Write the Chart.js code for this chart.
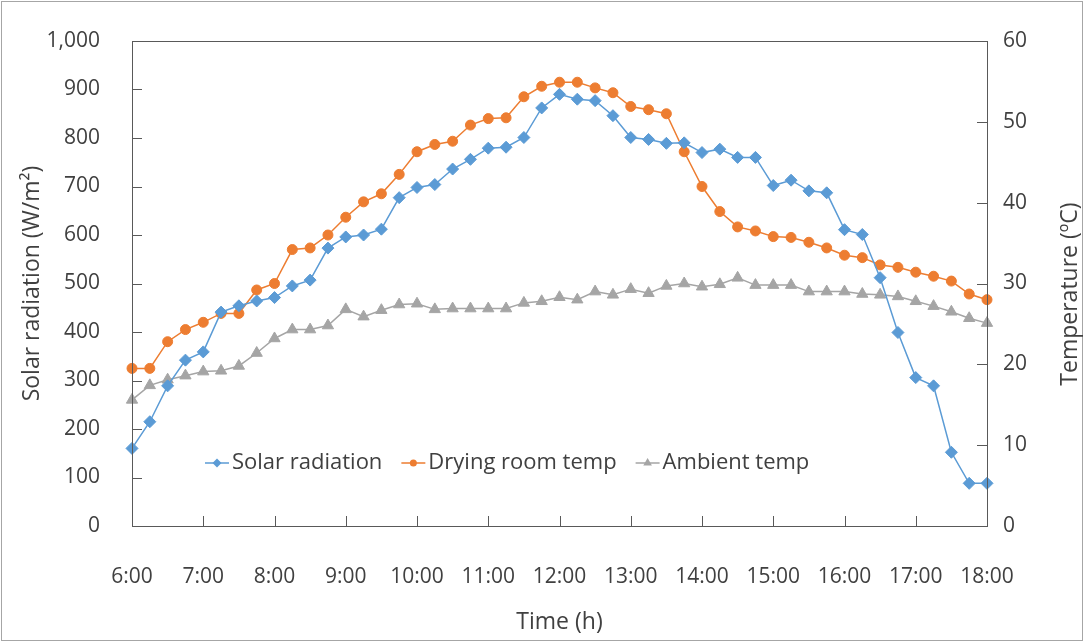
<!DOCTYPE html>
<html>
<head>
<meta charset="utf-8">
<script src="https://cdn.jsdelivr.net/npm/chart.js@4/dist/chart.umd.min.js"></script>
<style>
  html, body { margin: 0; padding: 0; background: #fff; }
  #wrap { width: 1084px; height: 642px; position: relative; }
</style>
</head>
<body>
<div id="wrap"><canvas id="dryChart" width="1084" height="642"></canvas></div>
<script>
// time of day, every 15 minutes
const times = ['6:00','6:15','6:30','6:45','7:00','7:15','7:30','7:45','8:00','8:15','8:30','8:45',
  '9:00','9:15','9:30','9:45','10:00','10:15','10:30','10:45','11:00','11:15','11:30','11:45',
  '12:00','12:15','12:30','12:45','13:00','13:15','13:30','13:45','14:00','14:15','14:30','14:45',
  '15:00','15:15','15:30','15:45','16:00','16:15','16:30','16:45','17:00','17:15','17:30','17:45','18:00'];

// W/m2
const solarRadiation = [160, 215, 289, 342, 359, 441, 454, 464, 471, 495, 507, 573, 596, 600, 612, 677,
  698, 704, 736, 756, 779, 781, 801, 862, 890, 880, 877, 846, 801, 797, 789, 790,
  770, 777, 760, 760, 702, 713, 691, 687, 611, 601, 512, 399, 306, 289, 152, 88, 88];

// deg C
const dryingRoomTemp = [19.5, 19.5, 22.8, 24.3, 25.2, 26.3, 26.3, 29.2, 30.0, 34.2, 34.4, 36.0, 38.2, 40.1, 41.1, 43.5,
  46.3, 47.2, 47.6, 49.6, 50.4, 50.5, 53.1, 54.4, 54.9, 54.9, 54.2, 53.6, 51.9, 51.5, 51.0, 46.3,
  42.0, 38.9, 37.0, 36.5, 35.8, 35.7, 35.1, 34.4, 33.5, 33.2, 32.3, 32.0, 31.4, 30.9, 30.3, 28.7, 28.0];

const ambientTemp = [15.6, 17.4, 18.1, 18.6, 19.1, 19.2, 19.8, 21.4, 23.2, 24.3, 24.3, 24.8, 26.8, 25.9, 26.7, 27.4,
  27.5, 26.8, 26.9, 26.9, 26.9, 26.9, 27.6, 27.8, 28.3, 28.0, 29.0, 28.6, 29.3, 28.8, 29.7, 30.0,
  29.6, 29.9, 30.7, 29.8, 29.8, 29.8, 29.0, 29.0, 29.0, 28.7, 28.6, 28.4, 27.8, 27.2, 26.5, 25.7, 25.1];

const FONT = '"Open Sans", "Noto Sans", sans-serif';
const TXT = '#404040';
const AXIS = '#595959';

// frame, inner tick marks, right title (reads upward) and the in-plot legend
const decorations = {
  id: 'decorations',
  beforeDraw(chart) {
    const c = chart.ctx;
    c.save();
    c.strokeStyle = '#a6a6a6';
    c.lineWidth = 1;
    c.strokeRect(1.5, 1.5, chart.width - 3, chart.height - 3);
    c.restore();
  },
  afterDraw(chart) {
    const c = chart.ctx;
    const a = chart.chartArea;
    const x = chart.scales.x, y = chart.scales.y, y1 = chart.scales.y1;
    c.save();
    c.strokeStyle = AXIS;
    c.lineWidth = 1;
    c.strokeRect(Math.round(a.left) + 0.5, Math.round(a.top) + 0.5,
      Math.round(a.right - a.left), Math.round(a.bottom - a.top));
    c.beginPath();
    times.forEach((t, i) => {
      if (i % 4 !== 0) return;
      const px = Math.round(x.getPixelForValue(i)) + 0.5;
      c.moveTo(px, a.bottom); c.lineTo(px, a.bottom - 10);
    });
    y.ticks.forEach(t => {
      const py = Math.round(y.getPixelForValue(t.value)) + 0.5;
      c.moveTo(a.left, py); c.lineTo(a.left + 10, py);
    });
    y1.ticks.forEach(t => {
      const py = Math.round(y1.getPixelForValue(t.value)) + 0.5;
      c.moveTo(a.right, py); c.lineTo(a.right - 10, py);
    });
    c.stroke();

    // right axis title
    c.save();
    c.translate(1070, 294);
    c.rotate(-Math.PI / 2);
    c.font = '23px ' + FONT;
    c.fillStyle = TXT;
    c.textAlign = 'center';
    c.textBaseline = 'middle';
    c.fillText('Temperature (ºC)', 0, 0);
    c.restore();

    // legend
    c.font = '22px ' + FONT;
    c.textBaseline = 'middle';
    const ly = 463;
    let lx = 205;
    chart.data.datasets.forEach(ds => {
      c.strokeStyle = ds.borderColor;
      c.lineWidth = 1.5;
      c.beginPath(); c.moveTo(lx, ly); c.lineTo(lx + 24, ly); c.stroke();
      c.fillStyle = ds.borderColor;
      Chart.helpers.drawPoint(c, { pointStyle: ds.pointStyle, radius: ds.pointRadius - 1.5, rotation: 0, borderWidth: 0 }, lx + 12, ly);
      c.fillStyle = TXT;
      c.fillText(ds.label, lx + 27, ly);
      lx += 27 + c.measureText(ds.label).width + 19;
    });
    c.restore();
  }
};

// vertical axes: fixed width, and no extra top/bottom padding from the tick gap
const fitVertical = w => s => { s.width = w; s.paddingTop = 0; s.paddingBottom = 0; };

new Chart(document.getElementById('dryChart'), {
  type: 'line',
  data: {
    labels: times,
    datasets: [{
      label: 'Solar radiation',
      data: solarRadiation,
      yAxisID: 'y',
      borderColor: '#5B9BD5',
      backgroundColor: '#5B9BD5',
      pointStyle: 'rectRot',
      pointRadius: 6,
      borderWidth: 1.5,
      pointBorderWidth: 1
    }, {
      label: 'Drying room temp',
      data: dryingRoomTemp,
      yAxisID: 'y1',
      borderColor: '#ED7D31',
      backgroundColor: '#ED7D31',
      pointStyle: 'circle',
      pointRadius: 5,
      borderWidth: 1.5,
      pointBorderWidth: 1
    }, {
      label: 'Ambient temp',
      data: ambientTemp,
      yAxisID: 'y1',
      borderColor: '#A5A5A5',
      backgroundColor: '#A5A5A5',
      pointStyle: 'triangle',
      pointRadius: 6.5,
      borderWidth: 1.5,
      pointBorderWidth: 1
    }]
  },
  options: {
    responsive: false,
    animation: false,
    layout: { padding: { top: 41, left: 0, right: 0, bottom: 0 } },
    plugins: { legend: { display: false }, tooltip: { enabled: false } },
    scales: {
      x: {
        offset: false,
        grid: { display: false, drawTicks: false },
        border: { display: false },
        afterFit(s) { s.height = 116; },
        ticks: {
          autoSkip: false, maxRotation: 0, padding: 38,
          color: TXT, font: { family: FONT, size: 21 },
          callback: (v, i) => (i % 4 === 0 ? times[i] : '')
        },
        title: {
          display: true, text: 'Time (h)', color: TXT,
          font: { family: FONT, size: 23 }, padding: { top: 0, bottom: 6 }
        }
      },
      y: {
        position: 'left', min: 0, max: 1000,
        grid: { display: false, drawTicks: false },
        border: { display: false },
        afterFit: fitVertical(132),
        ticks: { stepSize: 100, padding: 32, color: TXT, font: { family: FONT, size: 21 } },
        title: {
          display: true, text: 'Solar radiation (W/m²)', color: TXT,
          font: { family: FONT, size: 23 }, padding: { top: 19, bottom: 0 }
        }
      },
      y1: {
        position: 'right', min: 0, max: 60,
        grid: { display: false, drawTicks: false },
        border: { display: false },
        afterFit: fitVertical(97),
        ticks: { stepSize: 10, padding: 16, color: TXT, font: { family: FONT, size: 21 } },
        title: { display: false }
      }
    }
  },
  plugins: [decorations]
});
</script>
</body>
</html>
